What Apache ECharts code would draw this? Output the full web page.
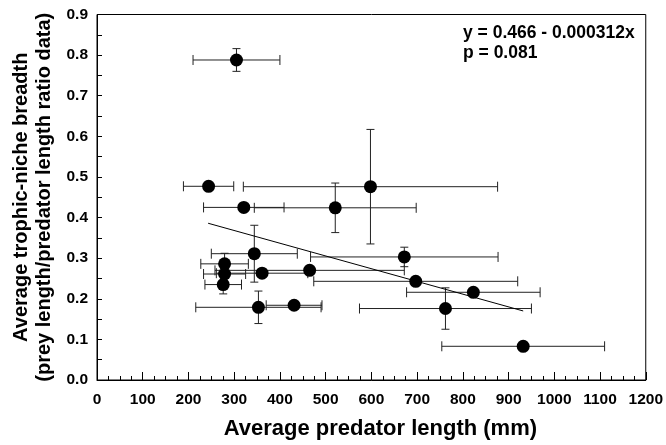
<!DOCTYPE html>
<html>
<head>
<meta charset="utf-8">
<script src="https://cdn.jsdelivr.net/npm/echarts@6/dist/echarts.min.js"></script>
<style>html,body{margin:0;padding:0;background:#fff;}#c{width:666px;height:445px;}</style>
</head>
<body>
<div id="c"></div>
<script>
// Data
const predLen = [305, 244, 598, 321, 521, 344, 279, 279, 276, 361, 465, 353, 431, 672, 697, 823, 762, 932];
const niche   = [0.788, 0.477, 0.476, 0.425, 0.424, 0.311, 0.286, 0.261, 0.235, 0.263, 0.270, 0.179, 0.184, 0.303, 0.243, 0.216, 0.176, 0.083];
const xErr    = [95, 55, 278, 88, 177, 94, 52, 46, 40, 100, 207, 137, 61, 205, 223, 146, 188, 178];
const yErr    = [0.028, 0, 0.141, 0, 0.061, 0.070, 0.026, 0, 0.023, 0, 0, 0.040, 0, 0.024, 0, 0, 0.051, 0];
const fitX    = [243, 932];
const fitY    = [0.386, 0.170];
const xTicks  = [0, 1200, 100];
const yTicks  = [0, 0.9, 0.1];
const eqText  = ['y = 0.466 - 0.000312x', 'p = 0.081'];

const pts = predLen.map((x, i) => [x, niche[i]]);
const errData = predLen.map((x, i) => [x, niche[i], xErr[i], yErr[i]]);
const fitData = fitX.map((x, i) => [x, fitY[i]]);

const chart = echarts.init(document.getElementById('c'), null, {renderer: 'canvas'});
const font = 'Liberation Sans, Arial, sans-serif';
const barColor = '#222';

chart.setOption({
  backgroundColor: '#fff',
  animation: false,
  grid: {left: 97, right: 18, top: 14.5, bottom: 65, show: true, borderColor: '#000', borderWidth: 1, backgroundColor: 'transparent'},
  title: {
    text: eqText.join('\n'),
    left: 463, top: 23, padding: 0,
    textStyle: {fontFamily: font, fontWeight: 'bold', fontSize: 17.5, color: '#000', lineHeight: 20}
  },
  xAxis: {
    type: 'value', min: xTicks[0], max: xTicks[1], interval: xTicks[2],
    name: 'Average predator length (mm)', nameLocation: 'middle', nameGap: 38,
    nameTextStyle: {fontFamily: font, fontWeight: 'bold', fontSize: 22, color: '#000', padding: [0, 0, 0, 18]},
    axisLine: {show: true, lineStyle: {color: '#000', width: 1}},
    axisTick: {show: true, inside: true, length: 8, lineStyle: {color: '#000'}},
    minorTick: {show: true, splitNumber: 4, length: 4, lineStyle: {color: '#000'}},
    axisLabel: {fontFamily: font, fontWeight: 'bold', fontSize: 15.5, color: '#000', margin: 12,
      formatter: v => String(v)},
    splitLine: {show: false}
  },
  yAxis: {
    type: 'value', min: yTicks[0], max: yTicks[1], interval: yTicks[2],
    name: 'Average trophic-niche breadth\n(prey length/predator length ratio data)',
    nameLocation: 'middle', nameRotate: 90, nameGap: 36,
    nameTextStyle: {fontFamily: font, fontWeight: 'bold', fontSize: 20, color: '#000', lineHeight: 23},
    axisLine: {show: true, lineStyle: {color: '#000', width: 1}},
    axisTick: {show: true, inside: true, length: 5, lineStyle: {color: '#000'}},
    minorTick: {show: true, splitNumber: 2, length: 5, lineStyle: {color: '#000'}},
    axisLabel: {fontFamily: font, fontWeight: 'bold', fontSize: 15.5, color: '#000', margin: 9,
      formatter: v => v.toFixed(1)},
    splitLine: {show: false}
  },
  series: [
    {
      type: 'custom',
      data: errData,
      z: 2,
      renderItem: function (params, api) {
        const x = api.value(0), y = api.value(1), xe = api.value(2), ye = api.value(3);
        const l = api.coord([x - xe, y]), r = api.coord([x + xe, y]);
        const st = {stroke: barColor, lineWidth: 1};
        const ch = 5, cw = 4;
        const children = [
          {type: 'line', shape: {x1: l[0], y1: l[1], x2: r[0], y2: r[1]}, style: st},
          {type: 'line', shape: {x1: l[0], y1: l[1] - ch, x2: l[0], y2: l[1] + ch}, style: st},
          {type: 'line', shape: {x1: r[0], y1: r[1] - ch, x2: r[0], y2: r[1] + ch}, style: st}
        ];
        if (ye > 0) {
          const t = api.coord([x, y + ye]), b = api.coord([x, y - ye]);
          children.push(
            {type: 'line', shape: {x1: t[0], y1: t[1], x2: b[0], y2: b[1]}, style: st},
            {type: 'line', shape: {x1: t[0] - cw, y1: t[1], x2: t[0] + cw, y2: t[1]}, style: st},
            {type: 'line', shape: {x1: b[0] - cw, y1: b[1], x2: b[0] + cw, y2: b[1]}, style: st}
          );
        }
        return {type: 'group', children: children};
      }
    },
    {
      type: 'line',
      data: fitData,
      symbol: 'none',
      z: 3,
      lineStyle: {color: '#000', width: 1}
    },
    {
      type: 'scatter',
      data: pts,
      symbol: 'circle',
      symbolSize: 13,
      z: 4,
      itemStyle: {color: '#000', opacity: 1}
    }
  ]
});
</script>
</body>
</html>
